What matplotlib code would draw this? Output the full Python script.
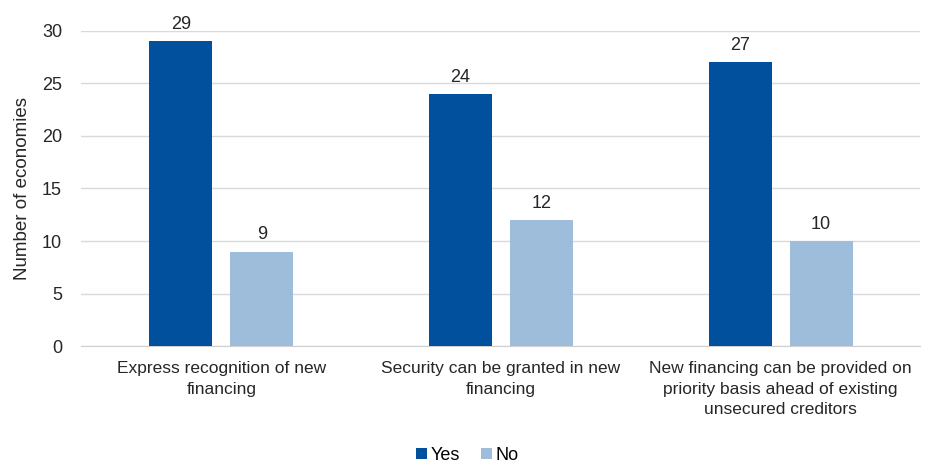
import matplotlib.pyplot as plt
import numpy as np

plt.rcParams['font.family'] = ['Liberation Sans', 'DejaVu Sans']

categories = ['Express recognition of new\nfinancing',
              'Security can be granted in new\nfinancing',
              'New financing can be provided on\npriority basis ahead of existing\nunsecured creditors']
yes_vals = [29, 24, 27]
no_vals = [9, 12, 10]

fig = plt.figure(figsize=(9.26, 4.62), dpi=100)
ax = fig.add_axes([0.088, 0.251, 0.906, 0.682])

x = np.arange(len(categories))
w = 0.225
off = 0.145
fs = 13
b1 = ax.bar(x - off, yes_vals, w, color='#00509E', label='Yes', zorder=3)
b2 = ax.bar(x + off, no_vals, w, color='#9DBDDA', label='No', zorder=3)

for bars in (b1, b2):
    for b in bars:
        ax.text(b.get_x() + b.get_width() / 2, b.get_height() + 0.8, str(int(b.get_height())),
                ha='center', va='bottom', fontsize=fs, color='#262626')

ax.set_xlim(-0.5, 2.5)
ax.set_ylim(0, 30)
ax.set_yticks(range(0, 31, 5))
ax.set_xticks(x)
ax.set_xticklabels(categories, fontsize=12.5, color='#262626', linespacing=1.45)
ax.tick_params(axis='y', labelsize=fs, colors='#262626', length=0, pad=14)
ax.tick_params(axis='x', length=0, pad=11)
ax.set_ylabel('Number of economies', fontsize=13.5, color='#262626', labelpad=8)
ax.grid(axis='y', color='#D9D9D9', linewidth=1, zorder=0)
for s in ['top', 'right', 'left']:
    ax.spines[s].set_visible(False)
ax.spines['bottom'].set_color('#D0D0D0')

ax.legend(loc='lower center', bbox_to_anchor=(0.46, -0.425), ncol=2, frameon=False,
          fontsize=fs, handlelength=0.6, handleheight=0.6, handletextpad=0.2, columnspacing=1.2)

fig.savefig('out.png', dpi=100)
